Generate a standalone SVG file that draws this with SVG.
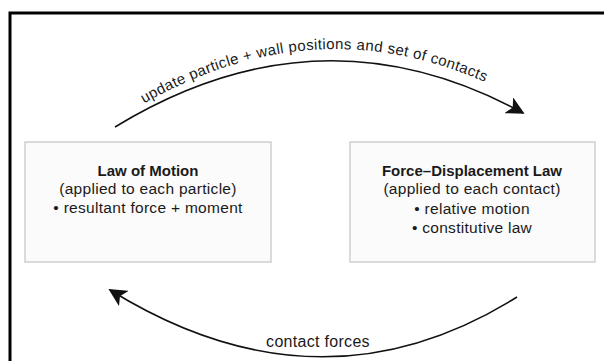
<svg xmlns="http://www.w3.org/2000/svg" width="604" height="361" viewBox="0 0 604 361">
<defs>
<style>
.box{fill:#fbfbfb;stroke:#cfcfcf;stroke-width:1.5}
.t{font-family:"Liberation Sans",Arial,sans-serif;font-size:15.5px;letter-spacing:0.3px;fill:#1a1a1a;text-anchor:middle}
.b{font-weight:bold;font-size:15px;letter-spacing:0}
.arc{fill:none;stroke:#111;stroke-width:1.5}
</style>
<marker id="ah" viewBox="0 0 10 10" refX="9" refY="5" markerWidth="18" markerHeight="18" markerUnits="userSpaceOnUse" orient="auto">
<path d="M0,0 L10,5 L0,10 L2.5,5 Z" fill="#111"/>
</marker>
<path id="tp" d="M 128,113 Q 315,-2 502,90" fill="none"/>
</defs>
<rect width="604" height="361" fill="#fff"/>
<path d="M 10,361 L 10,13 L 604,13" fill="none" stroke="#000" stroke-width="3"/>
<g id="connectors">
<path class="arc" d="M 115,127 Q 320,2 523,113" marker-end="url(#ah)"/>
<path class="arc" d="M 517,297 Q 320,420 110,290" marker-end="url(#ah)"/>
<text class="t" style="font-size:15px;letter-spacing:0.4px"><textPath href="#tp" startOffset="50%">update particle + wall positions and set of contacts</textPath></text>
<text class="t" x="318" y="347" style="font-size:16px">contact forces</text>
</g>
<g id="law-of-motion">
<rect class="box" x="25" y="142" width="246" height="120"/>
<text class="t b" x="148" y="176">Law of Motion</text>
<text class="t" x="148" y="194">(applied to each particle)</text>
<text class="t" x="148" y="213">• resultant force + moment</text>
</g>
<g id="force-displacement-law">
<rect class="box" x="350" y="142" width="245" height="120"/>
<text class="t b" x="472" y="176">Force–Displacement Law</text>
<text class="t" x="472" y="194">(applied to each contact)</text>
<text class="t" x="472" y="214">• relative motion</text>
<text class="t" x="472" y="233">• constitutive law</text>
</g>
</svg>
